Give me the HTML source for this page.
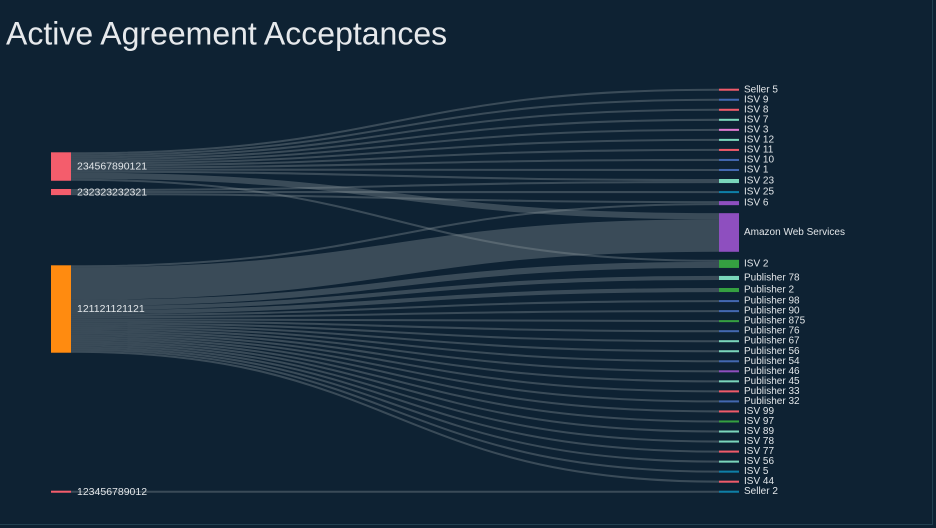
<!DOCTYPE html>
<html>
<head>
<meta charset="utf-8">
<style>
html,body{margin:0;padding:0;background:#0e2233;}
body{width:936px;height:528px;overflow:hidden;position:relative;}
svg{position:absolute;left:0;top:0;}
text{font-family:"Liberation Sans","DejaVu Sans",sans-serif;}
</style>
</head>
<body>
<svg width="936" height="528" viewBox="0 0 936 528" xmlns="http://www.w3.org/2000/svg">
<rect x="0" y="0" width="936" height="528" fill="#0e2233"/>
<line x1="932.5" y1="0" x2="932.5" y2="525" stroke="#22404f" stroke-width="1"/>
<line x1="0" y1="524.5" x2="933" y2="524.5" stroke="#22404f" stroke-width="1"/>

<text x="6" y="44.5" font-size="32" fill="#e6e9ec">Active Agreement Acceptances</text>

<g fill="none" stroke="#8a959c" stroke-opacity="0.36">
<!-- A links -->
<path d="M71,153.32C395,153.32 395,89.72 719,89.72" stroke-width="2.033"/>
<path d="M71,155.35C395,155.35 395,99.75 719,99.75" stroke-width="2.033"/>
<path d="M71,157.38C395,157.38 395,109.78 719,109.78" stroke-width="2.033"/>
<path d="M71,159.42C395,159.42 395,119.82 719,119.82" stroke-width="2.033"/>
<path d="M71,161.45C395,161.45 395,129.85 719,129.85" stroke-width="2.033"/>
<path d="M71,163.48C395,163.48 395,139.88 719,139.88" stroke-width="2.033"/>
<path d="M71,165.52C395,165.52 395,149.92 719,149.92" stroke-width="2.033"/>
<path d="M71,167.55C395,167.55 395,159.95 719,159.95" stroke-width="2.033"/>
<path d="M71,169.58C395,169.58 395,169.98 719,169.98" stroke-width="2.033"/>
<path d="M71,171.62C395,171.62 395,180.02 719,180.02" stroke-width="2.033"/>
<path d="M71,175.68C395,175.68 395,216.22 719,216.22" stroke-width="6.1"/>
<path d="M71,179.75C395,179.75 395,260.82 719,260.82" stroke-width="2.033"/>
<!-- B links -->
<path d="M71,190.02C395,190.02 395,182.05 719,182.05" stroke-width="2.033"/>
<path d="M71,192.05C395,192.05 395,192.08 719,192.08" stroke-width="2.033"/>
<path d="M71,194.08C395,194.08 395,202.12 719,202.12" stroke-width="2.033"/>
<!-- C links -->
<path d="M71,266.32C395,266.32 395,204.15 719,204.15" stroke-width="2.033"/>
<path d="M71,283.6C395,283.6 395,235.53 719,235.53" stroke-width="32.53"/>
<path d="M71,302.92C395,302.92 395,264.88 719,264.88" stroke-width="6.1"/>
<path d="M71,308.0C395,308.0 395,277.97 719,277.97" stroke-width="4.066"/>
<path d="M71,312.07C395,312.07 395,290.03 719,290.03" stroke-width="4.066"/>
<path d="M71,315.12C395,315.12 395,301.08 719,301.08" stroke-width="2.033"/>
<path d="M71,317.15C395,317.15 395,311.12 719,311.12" stroke-width="2.033"/>
<path d="M71,319.18C395,319.18 395,321.15 719,321.15" stroke-width="2.033"/>
<path d="M71,321.22C395,321.22 395,331.18 719,331.18" stroke-width="2.033"/>
<path d="M71,323.25C395,323.25 395,341.22 719,341.22" stroke-width="2.033"/>
<path d="M71,325.28C395,325.28 395,351.25 719,351.25" stroke-width="2.033"/>
<path d="M71,327.32C395,327.32 395,361.28 719,361.28" stroke-width="2.033"/>
<path d="M71,329.35C395,329.35 395,371.32 719,371.32" stroke-width="2.033"/>
<path d="M71,331.38C395,331.38 395,381.35 719,381.35" stroke-width="2.033"/>
<path d="M71,333.42C395,333.42 395,391.38 719,391.38" stroke-width="2.033"/>
<path d="M71,335.45C395,335.45 395,401.42 719,401.42" stroke-width="2.033"/>
<path d="M71,337.48C395,337.48 395,411.45 719,411.45" stroke-width="2.033"/>
<path d="M71,339.52C395,339.52 395,421.48 719,421.48" stroke-width="2.033"/>
<path d="M71,341.55C395,341.55 395,431.52 719,431.52" stroke-width="2.033"/>
<path d="M71,343.58C395,343.58 395,441.55 719,441.55" stroke-width="2.033"/>
<path d="M71,345.62C395,345.62 395,451.58 719,451.58" stroke-width="2.033"/>
<path d="M71,347.65C395,347.65 395,461.62 719,461.62" stroke-width="2.033"/>
<path d="M71,349.68C395,349.68 395,471.65 719,471.65" stroke-width="2.033"/>
<path d="M71,351.72C395,351.72 395,481.68 719,481.68" stroke-width="2.033"/>
<!-- D link -->
<path d="M71,491.72C395,491.72 395,491.72 719,491.72" stroke-width="2.033"/>
</g>

<!-- left nodes -->
<rect x="51" y="152.3" width="20" height="28.46" fill="#f45d6c"/>
<rect x="51" y="189" width="20" height="6.1" fill="#f45d6c"/>
<rect x="51" y="265.3" width="20" height="87.42" fill="#ff8b10"/>
<rect x="51" y="490.7" width="20" height="2.033" fill="#f45d6c"/>

<!-- right nodes -->
<g>
<rect x="719" y="88.70" width="20" height="2.033" fill="#ef5b6a"/>
<rect x="719" y="98.73" width="20" height="2.033" fill="#4368b0"/>
<rect x="719" y="108.77" width="20" height="2.033" fill="#ef5b6a"/>
<rect x="719" y="118.80" width="20" height="2.033" fill="#7ad6bb"/>
<rect x="719" y="128.83" width="20" height="2.033" fill="#e07bd0"/>
<rect x="719" y="138.87" width="20" height="2.033" fill="#7ad6bb"/>
<rect x="719" y="148.90" width="20" height="2.033" fill="#ef5b6a"/>
<rect x="719" y="158.93" width="20" height="2.033" fill="#4368b0"/>
<rect x="719" y="168.97" width="20" height="2.033" fill="#4368b0"/>
<rect x="719" y="179.00" width="20" height="4.066" fill="#7ad6bb"/>
<rect x="719" y="191.07" width="20" height="2.033" fill="#0f7fa6"/>
<rect x="719" y="201.10" width="20" height="4.066" fill="#8e4fbf"/>
<rect x="719" y="213.17" width="20" height="38.63" fill="#8e4fbf"/>
<rect x="719" y="259.80" width="20" height="8.13" fill="#35a041"/>
<rect x="719" y="275.93" width="20" height="4.066" fill="#7ad6bb"/>
<rect x="719" y="288.00" width="20" height="4.066" fill="#35a041"/>
<rect x="719" y="300.07" width="20" height="2.033" fill="#4368b0"/>
<rect x="719" y="310.10" width="20" height="2.033" fill="#4368b0"/>
<rect x="719" y="320.13" width="20" height="2.033" fill="#35a041"/>
<rect x="719" y="330.17" width="20" height="2.033" fill="#4368b0"/>
<rect x="719" y="340.20" width="20" height="2.033" fill="#7ad6bb"/>
<rect x="719" y="350.23" width="20" height="2.033" fill="#7ad6bb"/>
<rect x="719" y="360.27" width="20" height="2.033" fill="#4368b0"/>
<rect x="719" y="370.30" width="20" height="2.033" fill="#8e4fbf"/>
<rect x="719" y="380.33" width="20" height="2.033" fill="#7ad6bb"/>
<rect x="719" y="390.37" width="20" height="2.033" fill="#ef5b6a"/>
<rect x="719" y="400.40" width="20" height="2.033" fill="#4368b0"/>
<rect x="719" y="410.43" width="20" height="2.033" fill="#ef5b6a"/>
<rect x="719" y="420.47" width="20" height="2.033" fill="#35a041"/>
<rect x="719" y="430.50" width="20" height="2.033" fill="#7ad6bb"/>
<rect x="719" y="440.53" width="20" height="2.033" fill="#7ad6bb"/>
<rect x="719" y="450.57" width="20" height="2.033" fill="#ef5b6a"/>
<rect x="719" y="460.60" width="20" height="2.033" fill="#7ad6bb"/>
<rect x="719" y="470.63" width="20" height="2.033" fill="#0f7fa6"/>
<rect x="719" y="480.67" width="20" height="2.033" fill="#ef5b6a"/>
<rect x="719" y="490.70" width="20" height="2.033" fill="#0f7fa6"/>
</g>

<!-- left labels -->
<g font-size="10.5" fill="#e2e6e9" dominant-baseline="central">
<text x="77" y="166.5">234567890121</text>
<text x="77" y="192.3">232323232321</text>
<text x="77" y="309">121121121121</text>
<text x="77" y="491.9">123456789012</text>
</g>

<!-- right labels -->
<g font-size="10" fill="#e2e6e9" dominant-baseline="central">
<text x="744" y="89.9">Seller 5</text>
<text x="744" y="99.9">ISV 9</text>
<text x="744" y="109.9">ISV 8</text>
<text x="744" y="119.9">ISV 7</text>
<text x="744" y="129.9">ISV 3</text>
<text x="744" y="139.9">ISV 12</text>
<text x="744" y="150.0">ISV 11</text>
<text x="744" y="160.0">ISV 10</text>
<text x="744" y="170.0">ISV 1</text>
<text x="744" y="181.0">ISV 23</text>
<text x="744" y="192.1">ISV 25</text>
<text x="744" y="203.1">ISV 6</text>
<text x="744" y="232.5">Amazon Web Services</text>
<text x="744" y="263.9">ISV 2</text>
<text x="744" y="278.0">Publisher 78</text>
<text x="744" y="290.0">Publisher 2</text>
<text x="744" y="301.1">Publisher 98</text>
<text x="744" y="311.1">Publisher 90</text>
<text x="744" y="321.2">Publisher 875</text>
<text x="744" y="331.2">Publisher 76</text>
<text x="744" y="341.2">Publisher 67</text>
<text x="744" y="351.3">Publisher 56</text>
<text x="744" y="361.3">Publisher 54</text>
<text x="744" y="371.3">Publisher 46</text>
<text x="744" y="381.4">Publisher 45</text>
<text x="744" y="391.4">Publisher 33</text>
<text x="744" y="401.4">Publisher 32</text>
<text x="744" y="411.5">ISV 99</text>
<text x="744" y="421.5">ISV 97</text>
<text x="744" y="431.5">ISV 89</text>
<text x="744" y="441.6">ISV 78</text>
<text x="744" y="451.6">ISV 77</text>
<text x="744" y="461.6">ISV 56</text>
<text x="744" y="471.7">ISV 5</text>
<text x="744" y="481.7">ISV 44</text>
<text x="744" y="491.7">Seller 2</text>
</g>
</svg>
</body>
</html>
